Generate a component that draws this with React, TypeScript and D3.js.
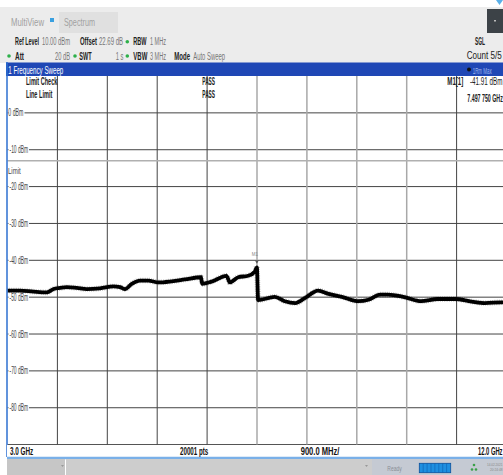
import * as d3 from "d3";

// trace (GHz, dBm)
const freqGHz = [
  3.0, 3.23, 3.47, 3.71, 3.83, 3.95, 4.07, 4.25, 4.43, 4.67, 4.91, 5.03, 5.12, 5.24,
  5.39, 5.54, 5.72, 5.96, 6.2, 6.49, 6.51, 6.68, 6.95, 7.01, 7.16, 7.34, 7.46, 7.4977,
  7.52, 7.82, 8.0, 8.19, 8.37, 8.6, 8.79, 9.03, 9.33, 9.51, 9.72, 9.86, 10.16, 10.46,
  10.76, 11.07, 11.37, 11.61, 11.91, 12.0,
];
const levelDbm = [
  -48.2, -48.2, -48.5, -48.7, -47.8, -47.5, -47.3, -47.5, -47.8, -47.6, -47.1, -47.3,
  -47.8, -46.4, -45.5, -45.5, -46.0, -45.7, -45.2, -44.6, -46.4, -45.8, -44.2, -46.0,
  -44.6, -44.2, -43.1, -41.9, -50.8, -49.9, -51.1, -51.6, -50.2, -48.2, -49.1, -49.9,
  -51.1, -50.7, -49.3, -49.3, -50.0, -51.1, -50.5, -50.5, -51.2, -51.6, -51.4, -51.5,
];
const yTickLabels = [0, -10, -20, -30, -40, -50, -60, -70, -80];
const limitDbm = -13;
const marker = { name: "M1", freq: 7.49775, level: -41.91 };

const width = 503;
const height = 475;
const plot = { left: 7.5, right: 506.5, top: 76, bottom: 444.6 };
const font = "'Liberation Sans', Arial, sans-serif";

type TProps = {
  x: number;
  y: number;
  w: number;
  size?: number;
  fill?: string;
  bold?: boolean;
  children: string;
};

// condensed look: squeeze glyphs into the width measured on the screenshot
function T({ x, y, w, size = 10, fill = "#222", bold, children }: TProps) {
  return (
    <text
      x={x}
      y={y}
      fontSize={size}
      fill={fill}
      fontWeight={bold ? "bold" : "normal"}
      textLength={w}
      lengthAdjust="spacingAndGlyphs"
    >
      {children}
    </text>
  );
}

export default function App() {
  const x = d3.scaleLinear().domain([3, 12]).range([plot.left, plot.right]);
  const y = d3.scaleLinear().domain([-90, 10]).range([plot.bottom, plot.top]);
  const vTicks = d3.range(1, 10).map((i) => 3 + i * 0.9);
  const lightCols = [4, 5, 6, 7];

  const pts = freqGHz.map((f, i) => [f, levelDbm[i]] as [number, number]);
  const line = d3
    .line<[number, number]>()
    .x((d) => x(d[0]))
    .y((d) => y(d[1]))
    .curve(d3.curveMonotoneX);
  const path = line(pts) ?? "";

  const mx = x(marker.freq);
  const my = y(marker.level);

  return (
    <div style={{ position: "absolute", left: 0, top: 0 }}>
      <svg width={width} height={height} style={{ display: "block" }} fontFamily={font}>
        <rect x={0} y={0} width={width} height={height} fill="#fff" />
        {/* header */}
        <rect x={0} y={7} width={width} height={56} fill="#ececec" />
        <T x={11} y={26} w={33} size={10.5} fill="#a0a0a0">MultiView</T>
        <rect x={50} y={18} width={4} height={4} fill="#3aa0e0" />
        <rect x={59} y={12} width={59} height={21} fill="#e0e0e0" />
        <T x={64} y={26} w={31} size={10.5} fill="#a0a0a0">Spectrum</T>
        <rect x={487} y={9} width={16} height={24} fill="#3c4247" />
        <rect x={494} y={20} width={2} height={1.5} fill="#bbb" />
        <path d="M496,0 L503,0 L499.5,5 Z" fill="#5ab0e8" />

        <T x={15} y={45} w={24} bold>Ref Level</T>
        <T x={42} y={45} w={28} fill="#777">10.00 dBm</T>
        <T x={80} y={45} w={17} bold>Offset</T>
        <T x={99} y={45} w={24} fill="#777">22.69 dB</T>
        <circle cx={127.3} cy={41.7} r={1.8} fill="#2db04a" />
        <T x={133.3} y={45} w={13.3} bold>RBW</T>
        <T x={150} y={45} w={16} fill="#777">1 MHz</T>

        <circle cx={9} cy={56} r={1.8} fill="#2db04a" />
        <T x={15} y={59.5} w={9} bold>Att</T>
        <T x={55} y={59.5} w={15} fill="#777">20 dB</T>
        <circle cx={75} cy={56} r={1.8} fill="#2db04a" />
        <T x={79.3} y={59.5} w={12.3} bold>SWT</T>
        <T x={115.7} y={59.5} w={7.7} fill="#777">1 s</T>
        <circle cx={127.3} cy={56} r={1.8} fill="#2db04a" />
        <T x={133.3} y={59.5} w={14} bold>VBW</T>
        <T x={150} y={59.5} w={16} fill="#777">3 MHz</T>
        <T x={174.3} y={59.5} w={15.7} bold>Mode</T>
        <T x={193.3} y={59.5} w={31.7} fill="#777">Auto Sweep</T>

        <T x={475} y={45} w={10} bold>SGL</T>
        <T x={466.7} y={58.5} w={35}>Count 5/5</T>

        {/* title bar */}
        <rect x={6} y={62.5} width={width - 6} height={13.5} fill="#1f47b5" />
        <T x={8.3} y={73.5} w={55} size={10} fill="#fff">1 Frequency Sweep</T>
        <circle cx={469} cy={69.5} r={2} fill="#111" />
        <T x={472.7} y={73.5} w={19} size={9.5} fill="#9fb7ee">1Rm Max</T>

        {/* grid */}
        {yTickLabels.map((t) => (
          <line key={`h${t}`} x1={plot.left} x2={width} y1={y(t)} y2={y(t)} stroke="#444" strokeWidth={1} />
        ))}
        <line x1={plot.left} x2={width} y1={plot.bottom} y2={plot.bottom} stroke="#444" />
        {vTicks.map((f, i) => (
          <line
            key={`v${i}`}
            x1={x(f)}
            x2={x(f)}
            y1={plot.top}
            y2={plot.bottom}
            stroke={lightCols.includes(i) ? "#a8a8a8" : "#444"}
            strokeWidth={lightCols.includes(i) ? 1.5 : 1}
          />
        ))}
        <line x1={plot.left} x2={width} y1={y(limitDbm)} y2={y(limitDbm)} stroke="#b0b0b0" strokeWidth={1.5} />
        <T x={8} y={173.5} w={12.7} size={9.5} fill="#444">Limit</T>

        {yTickLabels.map((t) => (
          <g key={`l${t}`}>
            <rect x={8.5} y={y(t) - 5} width={t === 0 ? 16 : 20.5} height={9.5} fill="#fff" />
            <T x={t === 0 ? 8.3 : 9.5} y={y(t) + 3.5} w={t === 0 ? 15 : 18.5} size={10} fill="#444">
              {`${t} dBm`}
            </T>
          </g>
        ))}

        {/* limit check + marker info */}
        <T x={26} y={85} w={31.3} bold>Limit Check</T>
        <T x={26} y={97.5} w={26.3} bold>Line Limit</T>
        <T x={202.3} y={85} w={12.7} bold>PASS</T>
        <T x={202.3} y={97.5} w={12.7} bold>PASS</T>
        <T x={447.3} y={84.5} w={16} bold>M1[1]</T>
        <T x={470} y={84.5} w={32.5}>{`${marker.level} dBm`}</T>
        <T x={467.3} y={101.5} w={35.5} bold>7.497 750 GHz</T>

        {/* trace */}
        <path d={path} fill="none" stroke="#000" strokeOpacity={0.4} strokeWidth={5.6} strokeDasharray="0.5 1.3" />
        <path d={path} fill="none" stroke="#000" strokeWidth={3.8} strokeLinejoin="round" />

        {/* marker */}
        <text x={mx - 2} y={256} fontSize={4.5} fill="#888" textAnchor="middle">{marker.name}</text>
        <path d={`M${mx - 2},${my - 7} L${mx + 2},${my - 7} L${mx},${my - 3.5} Z`} fill="#555" />

        {/* left border */}
        <line x1={7} x2={7} y1={62} y2={457} stroke="#2d6fd0" strokeWidth={1.5} />

        {/* x axis footer */}
        <rect x={7} y={445} width={width - 7} height={12} fill="#fff" />
        <line x1={7} x2={width} y1={458} y2={458} stroke="#7ab0e8" strokeWidth={2.5} />
        <T x={10} y={455} w={23.3} fill="#111" bold>3.0 GHz</T>
        <T x={180} y={455} w={28.3} fill="#111" bold>20001 pts</T>
        <T x={300.7} y={455} w={38.7} fill="#111" bold>900.0 MHz/</T>
        <T x={478} y={455} w={24.5} fill="#111" bold>12.0 GHz</T>

        {/* status bar */}
        <rect x={7} y={459} width={58} height={16} fill="#c6c6c6" />
        <rect x={66} y={459} width={306} height={16} fill="#cdcdcd" />
        <rect x={372} y={459} width={131} height={16} fill="#c5cad3" />
        <path d="M61,465 L64,465 L62.5,467 Z" fill="#999" />
        <path d="M365,465 L368,465 L366.5,467 Z" fill="#999" />
        <T x={387.3} y={470.5} w={14.4} size={7.5} fill="#8a8f96">Ready</T>
        <rect x={419.3} y={463.3} width={31.4} height={9.4} fill="#1e8fe0" stroke="#0b4f9a" strokeWidth={0.8} />
        {d3.range(1, 8).map((i) => (
          <line key={`p${i}`} x1={419.3 + i * 3.9} x2={419.3 + i * 3.9} y1={463.3} y2={472.7} stroke="#0b5fb0" strokeWidth={0.6} />
        ))}
        <circle cx={474} cy={465} r={1.3} fill="#3aa048" />
        <circle cx={472} cy={469.5} r={1.3} fill="#3aa048" />
        <circle cx={476} cy={469.5} r={1.3} fill="#3aa048" />
        <T x={487} y={466} w={15.5} size={4} fill="#888">14.02.2021</T>
        <T x={490} y={471} w={12.5} size={4} fill="#888">20:24:48</T>
      </svg>
    </div>
  );
}
